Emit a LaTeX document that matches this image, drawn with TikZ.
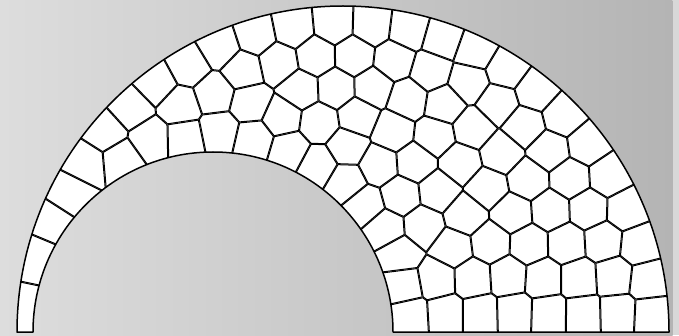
\documentclass[tikz,border=0pt]{standalone}
\newcount\nsites
\newcount\ci \newcount\ck
\newdimen\ddx \newdimen\ddy
\newdimen\fxd \newdimen\fyd
\def\addsite#1#2{\global\advance\nsites by 1
  \expandafter\xdef\csname sx\the\nsites\endcsname{#1}%
  \expandafter\xdef\csname sy\the\nsites\endcsname{#2}}
\def\gsp{35}\def\Acell{1250}\def\hmax{58}
\def\rzero{39}\def\rhalf{19}\def\ralpha{0.45}
% ---------- initial layered sites ----------
\newcommand\stepinfo[1]{%
  \pgfmathsetmacro\myT{10*(13*cos(#1)+sqrt(1062.76-169*sin(#1)*sin(#1))-18)}%
  \pgfmathtruncatemacro\myn{max(1,round(\myT/\gsp))}%
  \ifnum\lay<\myn\relax
    \pgfmathsetmacro\mydd{\myT/\myn}%
    \pgfmathsetmacro\mydpos{\myT-(\lay+0.5)*\mydd}%
    \pgfmathsetmacro\mysl{min(\hmax,\Acell/\mydd)}%
    \pgfmathsetmacro\mystep{\mysl/(180+\mydpos)*57.29578}%
  \fi}
\newcommand\emitsite{%
  \pgfmathsetmacro\spx{213+(180+\mydpos)*cos(\myth)+5*rand}%
  \pgfmathsetmacro\spy{3+(180+\mydpos)*sin(\myth)+5*rand}%
  \addsite{\spx}{\spy}}
\newcommand\walkloop{%
  \ifdim\myth pt<180pt
    \stepinfo{\myth}%
    \ifnum\lay<\myn\relax
      \pgfmathsetmacro\thlim{180-0.3*\mystep}%
      \ifdim\myth pt<\thlim pt \emitsite\fi
      \pgfmathsetmacro\myth{\myth+\mystep}%
    \else
      \pgfmathsetmacro\myth{\myth+1}%
    \fi
    \expandafter\walkloop
  \fi}
\newcommand\walklayer[1]{%
  \def\lay{#1}%
  \stepinfo{0}%
  \pgfmathsetmacro\myth{0.5*\mystep}%
  \walkloop}
% ---------- relaxation ----------
\newcommand\relaxforce{%
  \pgfmathsetmacro\qdx{\qax-\qbx}%
  \pgfmathsetmacro\qdy{\qay-\qby}%
  \pgfmathsetmacro\qdist{max(0.5,veclen(\qdx,\qdy))}%
  \ifdim\qdist pt<\rzero pt
    \pgfmathsetmacro\qc{\ralpha*0.5*(\rzero-\qdist)/\qdist}%
    \pgfmathsetmacro\qfx{\qc*\qdx}\pgfmathsetmacro\qfy{\qc*\qdy}%
    \advance\fxd by \qfx pt \advance\fyd by \qfy pt
  \fi}
\newcommand\relaxpair{%
  \edef\qbx{\csname sx\the\ck\endcsname}%
  \edef\qby{\csname sy\the\ck\endcsname}%
  \ddx=\qbx pt \advance\ddx by -\qax pt
  \ddy=\qby pt \advance\ddy by -\qay pt
  \ifdim\ddx<0pt \ddx=-\ddx\fi
  \ifdim\ddy<0pt \ddy=-\ddy\fi
  \ifdim\ddx<\rzero pt \ifdim\ddy<\rzero pt \relaxforce\fi\fi}
\newcommand\relaxinner{%
  \ifnum\ck<\nsites
    \advance\ck by 1
    \ifnum\ck=\ci\else\relaxpair\fi
    \expandafter\relaxinner
  \fi}
\newcommand\boundforce{%
  \pgfmathsetmacro\bvx{(\qax-213)/10}\pgfmathsetmacro\bvy{(\qay-3)/10}%
  \pgfmathsetmacro\bbl{10*veclen(\bvx,\bvy)}%
  \pgfmathsetmacro\bbd{\bbl-180}%
  \ifdim\bbd pt<\rhalf pt
    \pgfmathsetmacro\qfx{\ralpha*(\rhalf-(\bbd))*\bvx*10/\bbl}%
    \pgfmathsetmacro\qfy{\ralpha*(\rhalf-(\bbd))*\bvy*10/\bbl}%
    \advance\fxd by \qfx pt \advance\fyd by \qfy pt
  \fi
  \pgfmathsetmacro\bvx{(\qax-343)/10}\pgfmathsetmacro\bvy{(\qay-3)/10}%
  \pgfmathsetmacro\bbl{10*veclen(\bvx,\bvy)}%
  \pgfmathsetmacro\bbd{326-\bbl}%
  \ifdim\bbd pt<\rhalf pt
    \pgfmathsetmacro\qfx{-\ralpha*(\rhalf-(\bbd))*\bvx*10/\bbl}%
    \pgfmathsetmacro\qfy{-\ralpha*(\rhalf-(\bbd))*\bvy*10/\bbl}%
    \advance\fxd by \qfx pt \advance\fyd by \qfy pt
  \fi
  \pgfmathsetmacro\bbd{\qay-3}%
  \ifdim\bbd pt<\rhalf pt
    \pgfmathsetmacro\qfy{\ralpha*(\rhalf-(\bbd))}%
    \advance\fyd by \qfy pt
  \fi}
\newcommand\relaxcell{%
  \edef\qax{\csname sx\the\ci\endcsname}%
  \edef\qay{\csname sy\the\ci\endcsname}%
  \fxd=0pt \fyd=0pt
  \ck=0 \relaxinner
  \boundforce
  \pgfmathsetmacro\nxv{\qax+\fxd}%
  \pgfmathsetmacro\nyv{\qay+\fyd}%
  \expandafter\xdef\csname sx\the\ci\endcsname{\nxv}%
  \expandafter\xdef\csname sy\the\ci\endcsname{\nyv}}
\newcommand\relaxouter{%
  \ifnum\ci<\nsites
    \advance\ci by 1 \relaxcell
    \expandafter\relaxouter
  \fi}
\newcommand\relaxall{\ci=0 \relaxouter}
% ---------- Voronoi drawing ----------
\newcommand\addpair{%
  \pgfmathsetmacro\qdx{\qbx-\qax}%
  \pgfmathsetmacro\qdy{\qby-\qay}%
  \pgfmathsetmacro\qdist{veclen(\qdx,\qdy)}%
  \ifdim\qdist pt<78pt
    \pgfmathsetmacro\qux{\qdx/\qdist}%
    \pgfmathsetmacro\quy{\qdy/\qdist}%
    \pgfmathsetmacro\qmx{(\qax+\qbx)/2}%
    \pgfmathsetmacro\qmy{(\qay+\qby)/2}%
    \pgfmathsetmacro\pax{\qmx-120*\quy}\pgfmathsetmacro\pay{\qmy+120*\qux}%
    \pgfmathsetmacro\pbx{\qmx+120*\quy}\pgfmathsetmacro\pby{\qmy-120*\qux}%
    \pgfmathsetmacro\pcx{\pbx-120*\qux}\pgfmathsetmacro\pcy{\pby-120*\quy}%
    \pgfmathsetmacro\pdx{\pax-120*\qux}\pgfmathsetmacro\pdy{\pay-120*\quy}%
    \xdef\cliplist{\unexpanded\expandafter{\cliplist}\noexpand\clip (\pax,\pay)--(\pbx,\pby)--(\pcx,\pcy)--(\pdx,\pdy)--cycle;}%
    \xdef\drawlist{\unexpanded\expandafter{\drawlist} (\pax,\pay)--(\pbx,\pby)}%
  \fi}
\newcommand\testpair{%
  \edef\qbx{\csname sx\the\ck\endcsname}%
  \edef\qby{\csname sy\the\ck\endcsname}%
  \ddx=\qbx pt \advance\ddx by -\qax pt
  \ddy=\qby pt \advance\ddy by -\qay pt
  \ifdim\ddx<0pt \ddx=-\ddx\fi
  \ifdim\ddy<0pt \ddy=-\ddy\fi
  \ifdim\ddx<78pt \ifdim\ddy<78pt \addpair\fi\fi}
\newcommand\innerloop{%
  \ifnum\ck<\nsites
    \advance\ck by 1
    \ifnum\ck=\ci\else\testpair\fi
    \expandafter\innerloop
  \fi}
\newcommand\docell{%
  \edef\qax{\csname sx\the\ci\endcsname}%
  \edef\qay{\csname sy\the\ci\endcsname}%
  \gdef\cliplist{}\gdef\drawlist{}%
  \ck=0 \innerloop
  \begin{scope}\cliplist\draw[edgeline]\drawlist;\end{scope}}
\definecolor{bgL}{HTML}{DDDDDD}
\definecolor{bgR}{HTML}{B4B4B4}
\definecolor{stripc}{HTML}{D8D8D8}
\begin{document}
\begin{tikzpicture}[x=1pt,y=1pt]
\tikzset{edgeline/.style={line width=2pt,black,line join=round},
  rim/.style={line width=1.5pt,black,line join=round}}
\useasboundingbox (0,0) rectangle (679,335);
\shade[left color=bgL,right color=bgR] (0,0) rectangle (672.5,335);
\fill[stripc] (672.5,0) rectangle (679,335);
\def\region{(17,3) arc[start angle=180,end angle=0,radius=326] -- (393,3) arc[start angle=0,end angle=180,radius=180] -- cycle}
\fill[white] \region;
\pgfmathsetseed{11}
\walklayer{0}\walklayer{1}\walklayer{2}\walklayer{3}
\walklayer{4}\walklayer{5}\walklayer{6}\walklayer{7}
\relaxall\relaxall\relaxall\relaxall\relaxall
\relaxall\relaxall\relaxall\relaxall\relaxall
\relaxall\relaxall
\begin{scope}
\clip \region;
\ci=0
\loop\ifnum\ci<\nsites
  \advance\ci by 1
  \docell
\repeat
\end{scope}
\draw[rim] \region;
\end{tikzpicture}
\end{document}
